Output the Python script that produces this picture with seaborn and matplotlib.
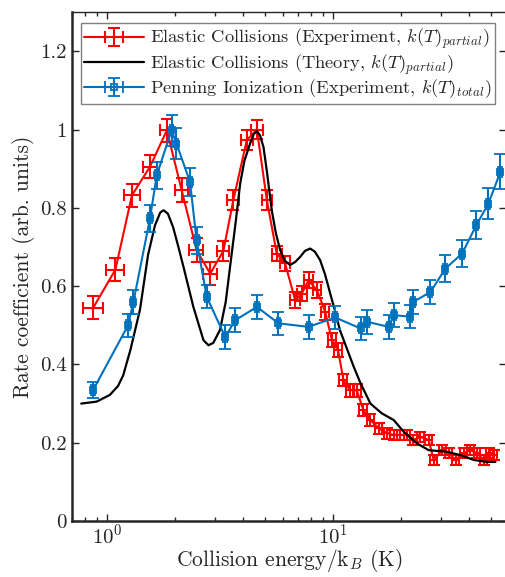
import numpy as np
import pandas as pd
import seaborn as sns
import matplotlib
matplotlib.use("Agg")
import matplotlib.pyplot as plt
from matplotlib.ticker import FuncFormatter, MultipleLocator

# data

red_x = [0.87, 1.09, 1.29, 1.55, 1.84, 2.14, 2.49, 2.86, 3.27, 3.62, 4.15, 4.6,
         5.09, 5.63, 6.13, 6.79, 7.26, 7.78, 8.47, 9.22, 9.87, 10.5, 11.1, 11.9,
         12.7, 13.6, 14.6, 15.9, 17.3, 18.5, 19.8, 21.2, 22.6, 24.3, 26.4, 27.8,
         30.3, 32.4, 34.7, 37.7, 40.4, 43.2, 46.2, 48.9, 51.2]
red_y = [0.545, 0.642, 0.832, 0.905, 0.998, 0.845, 0.692, 0.632, 0.69, 0.82,
         0.973, 1.0, 0.82, 0.683, 0.658, 0.564, 0.581, 0.615, 0.59, 0.534, 0.462,
         0.437, 0.36, 0.334, 0.334, 0.283, 0.258, 0.237, 0.224, 0.22, 0.22, 0.22,
         0.207, 0.215, 0.207, 0.156, 0.181, 0.173, 0.156, 0.173, 0.181, 0.173,
         0.156, 0.173, 0.168]
# relative x error, absolute y error
red_xerr_rel = [0.10, 0.09, 0.08, 0.07, 0.07, 0.07, 0.07, 0.07, 0.06, 0.06,
                0.06, 0.06, 0.05, 0.05, 0.05, 0.05, 0.05, 0.05, 0.04, 0.04, 0.04,
                0.04, 0.04, 0.04, 0.04, 0.04, 0.035, 0.035, 0.035, 0.035, 0.035,
                0.035, 0.035, 0.035, 0.035, 0.035, 0.035, 0.035, 0.035, 0.035,
                0.035, 0.035, 0.035, 0.035, 0.035]
red_yerr = [0.03, 0.03, 0.03, 0.03, 0.03, 0.03, 0.03, 0.03, 0.025, 0.025, 0.025,
            0.025, 0.025, 0.02, 0.02, 0.02, 0.02, 0.02, 0.02, 0.02, 0.018, 0.018,
            0.016, 0.016, 0.016, 0.015, 0.015, 0.014, 0.014, 0.013, 0.013, 0.013,
            0.013, 0.013, 0.013, 0.013, 0.013, 0.013, 0.013, 0.013, 0.013, 0.013,
            0.013, 0.013, 0.013]

blue_x = [0.87, 1.24, 1.31, 1.55, 1.66, 1.93, 2.03, 2.33, 2.49, 2.76, 3.33, 3.69,
          4.6, 5.73, 7.78, 10.2, 13.2, 14.1, 17.6, 18.5, 21.9, 22.6, 26.9, 31.3,
          37.1, 42.9, 48.5, 54.8]
blue_y = [0.335, 0.50, 0.56, 0.773, 0.883, 0.998, 0.964, 0.866, 0.717, 0.573,
          0.47, 0.513, 0.547, 0.505, 0.496, 0.52, 0.492, 0.509, 0.496, 0.526,
          0.522, 0.56, 0.585, 0.645, 0.683, 0.756, 0.811, 0.892]
blue_xerr_rel = 0.02
blue_yerr = [0.02, 0.03, 0.03, 0.035, 0.035, 0.04, 0.04, 0.035, 0.035, 0.03,
             0.03, 0.03, 0.03, 0.03, 0.03, 0.03, 0.03, 0.03, 0.03, 0.03, 0.03,
             0.03, 0.03, 0.035, 0.035, 0.035, 0.04, 0.045]

theory_x = [0.77, 0.90, 1.03, 1.12, 1.18, 1.27, 1.40, 1.52, 1.63, 1.72, 1.78,
            1.86, 1.96, 2.07, 2.18, 2.41, 2.67, 2.81, 2.95, 3.16, 3.35, 3.50,
            3.70, 3.88, 4.05, 4.29, 4.45, 4.6, 4.75, 4.92, 5.1, 5.35, 5.58, 5.83,
            6.1, 6.45, 6.8, 7.15, 7.5, 7.91, 8.3, 8.76, 9.2, 9.7, 10.2, 10.7,
            11.5, 12.3, 13.2, 14.6, 16.4, 18.5, 20.5, 23.5, 26.4, 31.8, 36.6,
            41.8, 47.9, 52.1]
theory_y = [0.30, 0.305, 0.322, 0.345, 0.372, 0.437, 0.54, 0.68, 0.755, 0.788,
            0.794, 0.785, 0.751, 0.70, 0.649, 0.547, 0.462, 0.449, 0.455, 0.488,
            0.56, 0.649, 0.76, 0.862, 0.92, 0.964, 0.988, 0.996, 0.985, 0.955,
            0.89, 0.794, 0.735, 0.692, 0.665, 0.654, 0.662, 0.675, 0.69, 0.696,
            0.688, 0.666, 0.63, 0.581, 0.535, 0.488, 0.44, 0.395, 0.352, 0.30,
            0.275, 0.258, 0.228, 0.198, 0.181, 0.177, 0.168, 0.156, 0.151, 0.151]

red_label = r"Elastic Collisions (Experiment, $k(T)_{partial}$)"
theory_label = r"Elastic Collisions (Theory, $k(T)_{partial}$)"
blue_label = r"Penning Ionization (Experiment, $k(T)_{total}$)"

red_c = "#FF0000"
blue_c = "#0072BD"

# style

sns.set_style("ticks")
plt.rcParams["font.family"] = ["cmr10", "DejaVu Serif"]
plt.rcParams["mathtext.fontset"] = "cm"
plt.rcParams["axes.formatter.use_mathtext"] = True

fig = plt.figure(figsize=(5.06, 5.77), dpi=100)
ax = fig.add_axes([0.142, 0.097, 0.858, 0.882])

df_theory = pd.DataFrame({"x": theory_x, "y": theory_y})

rx = np.array(red_x)
bx = np.array(blue_x)

ax.errorbar(rx, red_y, xerr=rx * np.array(red_xerr_rel), yerr=red_yerr,
            color=red_c, lw=1.5, elinewidth=1.5, capsize=4, capthick=1.5,
            label=red_label, zorder=3)

sns.lineplot(data=df_theory, x="x", y="y", color="black", lw=1.6,
             label=theory_label, ax=ax, zorder=4)

ax.errorbar(bx, blue_y, xerr=bx * blue_xerr_rel, yerr=blue_yerr,
            color=blue_c, lw=1.5, elinewidth=1.5, capsize=4, capthick=1.5,
            marker="s", ms=5, mfc="none", mew=1.3,
            label=blue_label, zorder=5)

ax.set_xscale("log")
ax.set_xlim(0.70, 58)
ax.set_ylim(0, 1.3)
ax.yaxis.set_major_locator(MultipleLocator(0.2))
ax.yaxis.set_major_formatter(FuncFormatter(lambda v, p: "%g" % round(v, 2)))

ax.set_xlabel(r"Collision energy/k$_B$ (K)", fontsize=15.5, labelpad=-1)
ax.set_ylabel("Rate coefficient (arb. units)", fontsize=15.5, labelpad=4)

ax.tick_params(which="both", direction="in", top=True, right=True,
               labelsize=15, width=1.0)
ax.tick_params(axis="x", pad=2)
ax.tick_params(which="major", length=5)
ax.tick_params(which="minor", length=3)

for s in ["left", "bottom"]:
    ax.spines[s].set_linewidth(1.8)
ax.spines["top"].set_linewidth(1.0)
ax.spines["right"].set_linewidth(1.0)

# legend order: red, theory, blue
h, l = ax.get_legend_handles_labels()
order = [l.index(red_label), l.index(theory_label), l.index(blue_label)]
leg = ax.legend([h[i] for i in order], [l[i] for i in order],
                loc="upper left", bbox_to_anchor=(0.012, 0.985),
                fontsize=13.3, frameon=True, fancybox=False, framealpha=1,
                edgecolor="#808080", handlelength=3.2, handletextpad=0.35,
                borderpad=0.2, labelspacing=0.05, borderaxespad=0.2)
leg.get_frame().set_linewidth(1.0)

plt.savefig("out.png", dpi=100)
plt.close()
